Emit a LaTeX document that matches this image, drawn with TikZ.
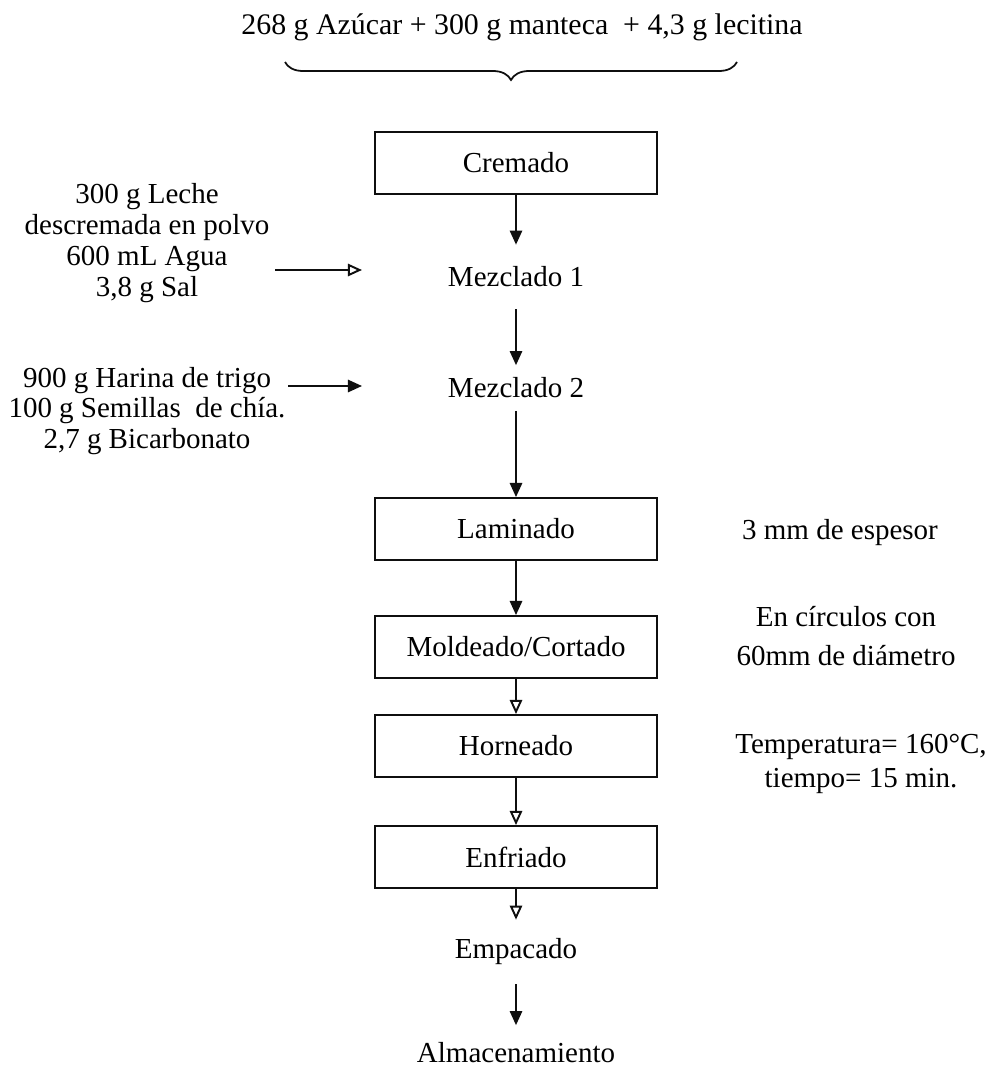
\documentclass[tikz,border=0pt]{standalone}
\usepackage{fontspec}
\setmainfont{Liberation Serif}
\usetikzlibrary{positioning,arrows.meta,decorations.pathreplacing}
\definecolor{lineColor}{RGB}{15,15,15}
\definecolor{paperColor}{RGB}{255,255,255}

\begin{document}
\begin{tikzpicture}[x=0.02cm,y=-0.02cm,
    caja/.style={draw=lineColor, line width=1.1pt, minimum width=5.64cm, minimum height=1.24cm,
      font=\fontsize{16.5}{19}\selectfont},
    etapa/.style={minimum height=1.28cm, inner sep=0pt, font=\fontsize{16.5}{19}\selectfont},
    nota/.style={align=center, inner sep=0pt, font=\fontsize{16.5}{17.6}\selectfont},
    flecha/.style={draw=lineColor, line width=1.1pt, -{Triangle[length=8pt,width=7pt]}},
    hueca/.style={draw=lineColor, line width=1.1pt, -{Triangle[open,length=8pt,width=7pt]}}]

    % Page frame
    \useasboundingbox[fill=paperColor] (0,0) rectangle (1000,1072);

    % Ingredients on top
    \node[nota, font=\fontsize{17}{19}\selectfont] (base) at (522,27)
        {268 g Azúcar + 300 g manteca~ + 4,3 g lecitina};
    \coordinate (llaveA) at (285,62);
    \coordinate (llaveB) at (737,62);
    \draw[lineColor, line width=1pt, decorate,
        decoration={brace, mirror, amplitude=0.36cm}] (llaveA) -- (llaveB);

    % Main line of the process
    \node[caja] (cremado) at (516,163) {Cremado};
    \node[etapa] (mezclaA) at (516,277) {Mezclado 1};
    \node[etapa, minimum height=0.9cm] (mezclaB) at (516,388) {Mezclado 2};
    \node[caja] (laminado) at (516,529) {Laminado};
    \node[caja] (moldeado) at (516,647) {Moldeado/Cortado};
    \node[caja] (horneado) at (516,746) {Horneado};
    \node[caja] (enfriado) at (516,857) {Enfriado};
    \node[etapa] (empacado) at (516,952) {Empacado};
    \node[etapa, minimum height=1.1cm] (almacen) at (516,1053) {Almacenamiento};

    % Arrows down
    \draw[flecha] (cremado) -- (mezclaA);
    \draw[flecha] (mezclaA) -- (mezclaB);
    \draw[flecha] (mezclaB) -- (laminado);
    \draw[flecha] (laminado) -- (moldeado);
    \draw[hueca] (moldeado) -- (horneado);
    \draw[hueca] (horneado) -- (enfriado);
    \draw[hueca] (enfriado) -- (empacado);
    \draw[flecha] (empacado) -- (almacen);

    % Inputs on the left
    \node[nota] (leche) at (147,243)
        {300 g Leche\\descremada en polvo\\600 mL Agua\\3,8 g Sal};
    \node[nota] (harina) at (147,411)
        {900 g Harina de trigo\\100 g Semillas~ de chía.\\2,7 g Bicarbonato};
    \coordinate (lecheFin) at (275,270);
    \coordinate (lecheMez) at (362,270);
    \coordinate (harinaFin) at (288,386);
    \coordinate (harinaMez) at (362,386);
    \draw[hueca] (lecheFin) -- (lecheMez);
    \draw[flecha] (harinaFin) -- (harinaMez);

    % Conditions on the right
    \node[nota] (espesor) at (840,533) {3 mm de espesor};
    \node[nota, font=\fontsize{16.5}{22.7}\selectfont] (circulos) at (846,636)
        {En círculos con\\60mm de diámetro};
    \node[nota, font=\fontsize{16.5}{19.8}\selectfont] (horno) at (861,764)
        {Temperatura= 160°C,\\tiempo= 15 min.};
\end{tikzpicture}
\end{document}
